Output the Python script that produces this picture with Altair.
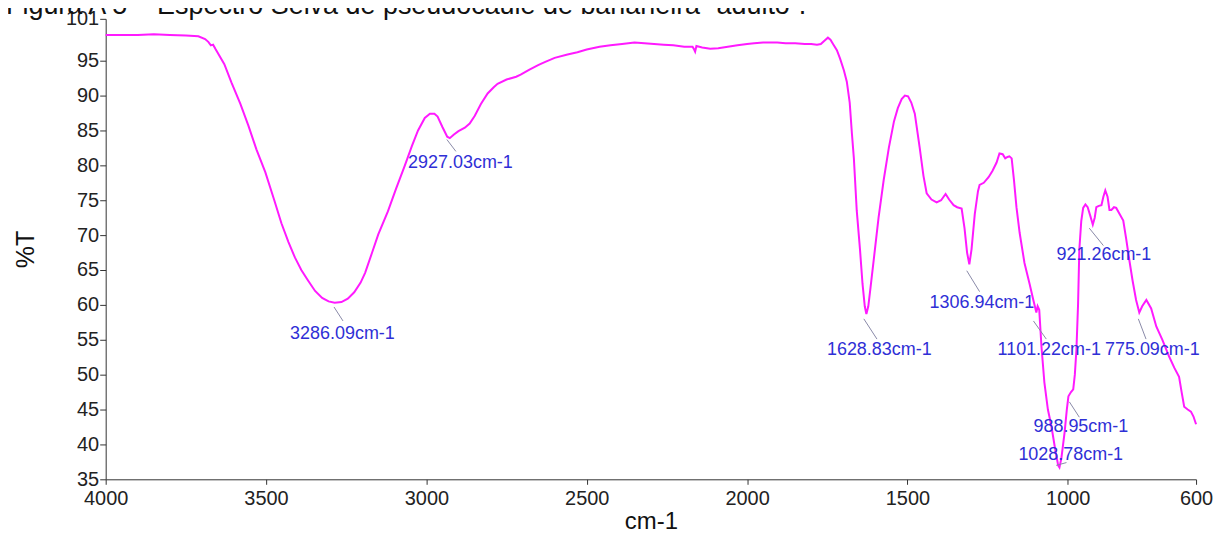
import altair as alt
import pandas as pd

# Spectrum (wavenumber cm-1, %T)
wavenumber = [4000, 3950, 3900, 3850, 3800, 3750, 3711, 3690, 3680, 3672, 3665, 3658, 3630, 3608, 3580,
              3555, 3530, 3502, 3475, 3452, 3430, 3410, 3390, 3369, 3347, 3325, 3305, 3286, 3265, 3245,
              3225, 3205, 3191, 3170, 3150, 3120, 3095, 3067, 3045, 3026, 3005, 2989, 2975, 2965, 2950,
              2935, 2927, 2915, 2900, 2880, 2865, 2849, 2830, 2809, 2790, 2778, 2750, 2720, 2706, 2680,
              2650, 2631, 2600, 2560, 2529, 2500, 2460, 2426, 2390, 2351, 2320, 2290, 2260, 2230, 2196,
              2170, 2165, 2162, 2158, 2140, 2115, 2090, 2060, 2030, 2000, 1978, 1950, 1906, 1880, 1850,
              1820, 1800, 1782, 1770, 1758, 1748, 1740, 1732, 1720, 1710, 1698, 1689, 1680, 1673, 1667,
              1658, 1648, 1640, 1633, 1628, 1622, 1615, 1605, 1590, 1574, 1558, 1542, 1530, 1518, 1508,
              1498, 1488, 1477, 1462, 1450, 1440, 1425, 1409, 1395, 1381, 1370, 1356, 1345, 1331, 1322,
              1314, 1307, 1300, 1290, 1280, 1275, 1262, 1247, 1235, 1222, 1213, 1203, 1195, 1188, 1182,
              1175, 1168, 1160, 1150, 1135, 1119, 1108, 1098, 1094, 1089, 1082, 1073, 1062, 1051, 1040,
              1030, 1026, 1020, 1010, 1003, 998, 990, 983, 978, 973, 968, 964, 958, 952, 945,
              938, 930, 922, 916, 911, 903, 895, 889, 883, 876, 870, 864, 856, 849, 838,
              827, 818, 808, 798, 787, 777, 768, 755, 740, 724, 705, 684, 668, 653, 645,
              637, 626, 616, 608, 600]
transmittance = [98.7, 98.7, 98.7, 98.8, 98.7, 98.6, 98.5, 98.1, 97.7, 97.2, 97.3, 96.7, 94.5, 91.9, 88.8,
                 85.7, 82.3, 79.0, 75.1, 71.7, 69.0, 66.8, 65.0, 63.5, 62.0, 61.0, 60.5, 60.3, 60.4, 60.9,
                 61.8, 63.2, 64.6, 67.4, 70.1, 73.4, 76.6, 80.0, 82.8, 85.0, 86.8, 87.4, 87.4, 87.0, 85.5,
                 84.1, 83.9, 84.4, 84.9, 85.4, 86.0, 87.1, 88.8, 90.3, 91.2, 91.7, 92.3, 92.7, 93.0, 93.7,
                 94.4, 94.8, 95.4, 95.9, 96.2, 96.6, 97.0, 97.2, 97.4, 97.6, 97.5, 97.4, 97.3, 97.2, 97.0,
                 97.0, 96.6, 96.3, 97.1, 96.9, 96.7, 96.8, 97.0, 97.2, 97.4, 97.5, 97.6, 97.6, 97.5, 97.5,
                 97.4, 97.4, 97.3, 97.4, 97.9, 98.3, 98.0, 97.4, 96.5, 95.3, 93.6, 92.0, 89.0, 84.5, 81.0,
                 73.5, 68.0, 63.0, 59.8, 58.7, 59.8, 62.5, 66.5, 72.5, 77.9, 82.5, 86.3, 88.2, 89.5, 90.0,
                 89.9, 89.0, 87.4, 82.6, 78.5, 76.0, 75.1, 74.7, 75.0, 75.9, 75.1, 74.3, 74.0, 73.8, 71.0,
                 67.5, 65.8, 68.0, 73.0, 76.3, 77.2, 77.5, 78.3, 79.2, 80.4, 81.7, 81.6, 81.0, 81.2, 81.3,
                 81.0, 78.0, 74.0, 70.3, 66.0, 63.0, 60.8, 58.9, 59.8, 59.3, 54.0, 48.9, 45.0, 42.6, 39.5,
                 37.0, 36.7, 38.0, 41.7, 45.0, 46.9, 47.5, 47.9, 50.0, 53.6, 60.0, 67.9, 72.0, 73.9, 74.4,
                 74.0, 72.8, 71.5, 72.5, 74.0, 74.2, 74.3, 75.5, 76.4, 75.5, 73.6, 73.6, 74.0, 73.9, 73.0,
                 72.1, 69.5, 66.4, 63.5, 60.7, 58.9, 59.8, 60.7, 59.5, 56.9, 55.0, 52.6, 51.0, 49.7, 47.5,
                 45.4, 45.0, 44.7, 44.0, 42.9]

# Peak annotations: label, label anchor (wn, %T), leader line start/end (wn, %T)
peak_labels = ["3286.09cm-1", "2927.03cm-1", "1628.83cm-1", "1306.94cm-1", "1101.22cm-1",
               "775.09cm-1", "921.26cm-1", "988.95cm-1", "1028.78cm-1"]
label_wn = [3425, 3057, 1751, 1431, 1219, 884, 1035, 1107, 1154]
label_t = [55.8, 80.3, 53.5, 60.3, 53.5, 53.5, 67.1, 42.5, 38.5]
lead_wn1 = [3288, 2936, 1636, 1315, 1107, 780, 933, 995, 1036]
lead_t1 = [59.7, 83.7, 58.0, 64.9, 57.7, 58.0, 71.0, 46.1, 37.0]
lead_wn2 = [3260, 2908, 1595, 1275, 1067, 756, 889, 964, 1004]
lead_t2 = [57.7, 82.0, 55.1, 61.9, 55.1, 55.1, 68.5, 43.9, 37.4]

x_ticks = [4000, 3500, 3000, 2500, 2000, 1500, 1000, 600]
y_ticks = [35, 40, 45, 50, 55, 60, 65, 70, 75, 80, 85, 90, 95, 101]
title_text = "Figura A 5 \u2013 Espectro Seiva de pseudocaule de bananeira \u201cadulto\u201d."

FONT = "Liberation Sans"

spec = pd.DataFrame({"wn": wavenumber, "T": transmittance})
ann = pd.DataFrame({"label": peak_labels, "lx": label_wn, "ly": label_t,
                    "x1": lead_wn1, "y1": lead_t1, "x2": lead_wn2, "y2": lead_t2})

xscale = alt.Scale(domain=[600, 4000], reverse=True, nice=False, zero=False)
yscale = alt.Scale(domain=[35, 101], nice=False, zero=False)

xaxis = alt.Axis(values=x_ticks, title="cm-1", format="d", grid=False, tickSize=5,
                 labelFontSize=20, titleFontSize=24, titleFontWeight="normal",
                 titlePadding=1, labelPadding=4, labelFlush=False, labelOverlap=False)
yaxis = alt.Axis(values=y_ticks, title="%T", format="d", grid=False, tickSize=6,
                 labelFontSize=20, titleFontSize=25, titleFontWeight="normal",
                 titlePadding=27, labelPadding=1, labelOverlap=False, labelSeparation=0)

line = alt.Chart(spec).mark_line(color="#ff1aff", strokeWidth=2).encode(
    x=alt.X("wn:Q", scale=xscale, axis=xaxis),
    y=alt.Y("T:Q", scale=yscale, axis=yaxis),
    order=alt.Order("wn:Q", sort="descending"),
)

leaders = alt.Chart(ann).mark_rule(color="#8a8aa8", strokeWidth=1).encode(
    x=alt.X("x1:Q", scale=xscale, axis=xaxis), x2="x2:Q",
    y=alt.Y("y1:Q", scale=yscale, axis=yaxis), y2="y2:Q",
)

labels = alt.Chart(ann).mark_text(align="left", baseline="middle", fontSize=18,
                                  font=FONT, color="#2f2fd6").encode(
    x=alt.X("lx:Q", scale=xscale, axis=xaxis),
    y=alt.Y("ly:Q", scale=yscale, axis=yaxis),
    text="label:N",
)

title = alt.Chart(pd.DataFrame({"t": [title_text]})).mark_text(
    align="left", baseline="alphabetic", fontSize=27, font=FONT, color="#111"
).encode(x=alt.value(-100), y=alt.value(-5), text="t:N")

chart = alt.layer(line, leaders, labels, title).properties(
    width=1094, height=462,
    autosize=alt.AutoSizeParams(type="none"),
    padding={"left": 98, "top": 10, "right": 18, "bottom": 56},
).configure_view(stroke=None).configure_axis(
    domainColor="#333", tickColor="#333", labelColor="#222", titleColor="#111",
    labelFont=FONT, titleFont=FONT, labelOverlap=False,
)

chart.save("out.html", embed_options={"renderer": "svg", "actions": False})
